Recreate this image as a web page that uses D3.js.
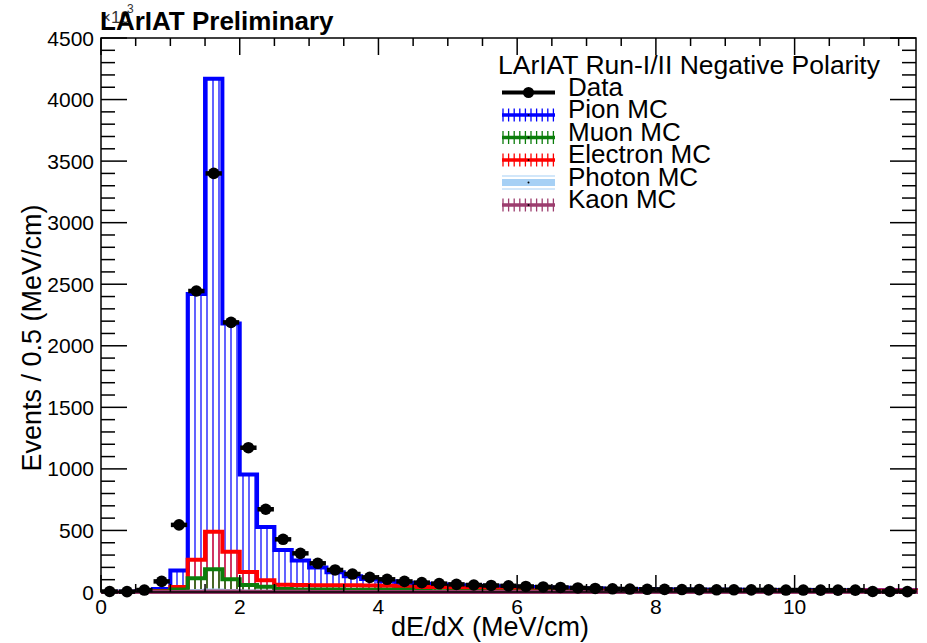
<!DOCTYPE html>
<html>
<head>
<meta charset="utf-8">
<script src="https://cdn.jsdelivr.net/npm/d3@7"></script>
<style>
  body { margin: 0; background: #fff; }
  svg { font-family: "Liberation Sans", Arial, Helvetica, sans-serif; }
</style>
</head>
<body>
<div id="chart"></div>
<script>
    // Bin layout: 47 bins of 0.25 MeV/cm from 0 to 11.75
    const binWidth = 0.25;
    const binLow = d3.range(47).map(i => i * binWidth);

    // Values (events per bin)
    const dataCounts = [4, 3, 16, 86, 545, 2445, 3400, 2190, 1172, 672, 428, 314, 233, 179, 146, 119, 103, 86, 76, 68,
        62, 57, 53, 50, 45, 41, 37, 33, 29, 26, 24, 22, 21, 20, 19, 18, 18, 17, 17, 16, 16, 15, 15, 15, 4, 4, 3];
    const pionMC = [0, 2, 6, 25, 175, 2420, 4170, 2180, 955, 528, 342, 255, 200, 160, 128, 105, 88, 76, 67, 60,
        54, 50, 46, 43, 40, 37, 34, 31, 28, 25, 23, 22, 21, 20, 19, 18, 18, 17, 17, 16, 16, 15, 15, 15, 14, 14, 14];
    const muonMC = [0, 0, 1, 5, 20, 111, 184, 103, 57, 43, 24, 21, 20, 20, 19, 19, 18, 18, 8, 7,
        6, 6, 5, 5, 4, 4, 4, 3, 3, 3, 3, 3, 2, 2, 2, 2, 2, 2, 2, 2, 2, 2, 2, 2, 2, 2, 2];
    const electronMC = [0, 0, 2, 8, 40, 262, 490, 327, 162, 95, 58, 56, 55, 55, 54, 53, 50, 42, 40, 38,
        32, 28, 22, 18, 14, 12, 11, 10, 10, 9, 9, 9, 9, 8, 8, 8, 8, 8, 8, 8, 8, 8, 8, 8, 12, 12, 12];
    const photonMC = [0, 0, 0, 1, 3, 8, 12, 9, 5, 3, 2, 2, 2, 1, 1, 1, 1, 1, 1, 1,
        1, 1, 1, 1, 1, 1, 1, 1, 1, 1, 1, 1, 1, 1, 1, 1, 1, 1, 1, 1, 1, 1, 1, 1, 1, 1, 1];
    const kaonMC = [0, 0, 0, 0, 1, 3, 5, 4, 3, 2, 2, 2, 1, 1, 1, 1, 1, 1, 1, 1,
        1, 1, 1, 1, 1, 1, 1, 1, 1, 1, 1, 1, 1, 1, 1, 1, 1, 1, 1, 1, 1, 1, 1, 1, 1, 1, 1];

    const xTicks = [0, 2, 4, 6, 8, 10];
    const yTicks = [0, 500, 1000, 1500, 2000, 2500, 3000, 3500, 4000, 4500];

    const legendHeader = "LArIAT Run-I/II Negative Polarity";
    const legendNames = ["Data", "Pion MC", "Muon MC", "Electron MC", "Photon MC", "Kaon MC"];

    // Frame
    const frame = {left: 101, right: 916, top: 38, bottom: 592};
    const width = 927, height = 643;

    const svg = d3.select("#chart")
        .append("svg")
        .attr("width", width)
        .attr("height", height);

    const x = d3.scaleLinear()
        .domain([0, 11.75])
        .range([frame.left, frame.right]);

    const y = d3.scaleLinear()
        .domain([0, 4500])
        .range([frame.bottom, frame.top]);

    // Hatch patterns (vertical lines, like ROOT fill style 3006)
    const defs = svg.append("defs");
    function hatch(id, color) {
        const p = defs.append("pattern")
            .attr("id", id)
            .attr("patternUnits", "userSpaceOnUse")
            .attr("width", 6)
            .attr("height", 10);
        p.append("line")
            .attr("x1", 3).attr("x2", 3)
            .attr("y1", 0).attr("y2", 10)
            .attr("stroke", color)
            .attr("stroke-width", 1.4);
    }
    hatch("hPion", "#1f1fff");
    hatch("hMuon", "#0b7d0b");
    hatch("hElectron", "#ff2020");
    hatch("hKaon", "#9c3d6e");

    // Step outline path for a histogram
    function stepPath(values) {
        let d = "M" + x(0) + "," + y(0);
        values.forEach((v, i) => {
            d += "L" + x(binLow[i]) + "," + y(v);
            d += "L" + x(binLow[i] + binWidth) + "," + y(v);
        });
        d += "L" + x(binLow[binLow.length - 1] + binWidth) + "," + y(0) + "Z";
        return d;
    }

    const hists = [
        {values: pionMC, color: "#0000ff", fill: "url(#hPion)"},
        {values: photonMC, color: "#a6d0f5", fill: "#a6d0f5"},
        {values: electronMC, color: "#ff0000", fill: "url(#hElectron)"},
        {values: muonMC, color: "#0b7d0b", fill: "url(#hMuon)"},
        {values: kaonMC, color: "#9c3d6e", fill: "url(#hKaon)"}
    ];

    const plot = svg.append("g");
    hists.forEach(h => {
        plot.append("path")
            .attr("d", stepPath(h.values))
            .attr("fill", h.fill)
            .attr("stroke", "none");
    });
    hists.forEach(h => {
        plot.append("path")
            .attr("d", stepPath(h.values))
            .attr("fill", "none")
            .attr("stroke", h.color)
            .attr("stroke-width", 4)
            .attr("stroke-linejoin", "miter");
    });

    // Data points with horizontal error bars
    const pts = plot.selectAll(".pt")
        .data(dataCounts)
        .enter().append("g");
    pts.append("line")
        .attr("x1", (d, i) => x(binLow[i]) + 0.5)
        .attr("x2", (d, i) => x(binLow[i] + binWidth) - 0.5)
        .attr("y1", d => y(d))
        .attr("y2", d => y(d))
        .attr("stroke", "#000")
        .attr("stroke-width", 4.5);
    pts.append("circle")
        .attr("cx", (d, i) => x(binLow[i] + binWidth / 2))
        .attr("cy", d => y(d))
        .attr("r", 5.8)
        .attr("fill", "#000");

    // Frame box
    svg.append("rect")
        .attr("x", frame.left).attr("y", frame.top)
        .attr("width", frame.right - frame.left)
        .attr("height", frame.bottom - frame.top)
        .attr("fill", "none")
        .attr("stroke", "#000")
        .attr("stroke-width", 1.5);

    // Ticks on all four sides
    const axes = svg.append("g").attr("stroke", "#000").attr("stroke-width", 1.5);
    const xMinor = d3.range(0, 11.75, 0.5);
    xMinor.forEach(v => {
        const len = v % 2 === 0 ? 17 : 8;
        axes.append("line").attr("x1", x(v)).attr("x2", x(v))
            .attr("y1", frame.bottom).attr("y2", frame.bottom - len);
        axes.append("line").attr("x1", x(v)).attr("x2", x(v))
            .attr("y1", frame.top).attr("y2", frame.top + len);
    });
    const yMinor = d3.range(0, 4501, 100);
    yMinor.forEach(v => {
        const len = v % 500 === 0 ? 26 : 14;
        axes.append("line").attr("x1", frame.left).attr("x2", frame.left + len)
            .attr("y1", y(v)).attr("y2", y(v));
        axes.append("line").attr("x1", frame.right).attr("x2", frame.right - len)
            .attr("y1", y(v)).attr("y2", y(v));
    });

    // Tick labels
    svg.append("g").selectAll("text")
        .data(xTicks).enter().append("text")
        .attr("x", d => x(d))
        .attr("y", 614)
        .attr("text-anchor", "middle")
        .attr("font-size", 21)
        .text(d => d);
    svg.append("g").selectAll("text")
        .data(yTicks).enter().append("text")
        .attr("x", 94)
        .attr("y", d => y(d))
        .attr("dy", "0.36em")
        .attr("text-anchor", "end")
        .attr("font-size", 21)
        .text(d => d);

    // Axis titles
    svg.append("text")
        .attr("x", 490).attr("y", 636)
        .attr("text-anchor", "middle")
        .attr("font-size", 27)
        .text("dE/dX (MeV/cm)");
    svg.append("text")
        .attr("transform", "translate(41,338) rotate(-90)")
        .attr("text-anchor", "middle")
        .attr("font-size", 27)
        .text("Events / 0.5 (MeV/cm)");

    // Exponent label (drawn under the title, as in the original) and title
    svg.append("text").attr("x", 101).attr("y", 23).attr("font-size", 17).attr("fill", "#333").text("\u00d710");
    svg.append("text").attr("x", 127).attr("y", 13).attr("font-size", 12).attr("fill", "#333").text("3");
    svg.append("text")
        .attr("x", 100).attr("y", 30)
        .attr("font-size", 26)
        .attr("font-weight", "bold")
        .text("LArIAT Preliminary");

    // Legend
    const lg = svg.append("g");
    lg.append("text")
        .attr("x", 498).attr("y", 74)
        .attr("font-size", 26.5)
        .text(legendHeader);

    const rowY = d => 92.5 + d * 22.5;
    const symX0 = 502, symX1 = 555;
    legendNames.forEach((name, i) => {
        const cy = rowY(i);
        lg.append("text")
            .attr("x", 568).attr("y", cy + 3)
            .attr("font-size", 26)
            .text(name);
        if (i === 0) {
            lg.append("line").attr("x1", symX0).attr("x2", symX1)
                .attr("y1", cy).attr("y2", cy)
                .attr("stroke", "#000").attr("stroke-width", 4);
            lg.append("circle").attr("cx", (symX0 + symX1) / 2).attr("cy", cy)
                .attr("r", 5.5).attr("fill", "#000");
            return;
        }
        const h = [hists[0], hists[3], hists[2], hists[1], hists[4]][i - 1];
        if (i === 4) {
            // photon: light blue band
            lg.append("rect").attr("x", symX0).attr("y", cy - 3.5)
                .attr("width", symX1 - symX0).attr("height", 7).attr("fill", h.color);
            [-6.5, 6.5].forEach(o => lg.append("line").attr("x1", symX0).attr("x2", symX1)
                .attr("y1", cy + o).attr("y2", cy + o)
                .attr("stroke", h.color).attr("stroke-width", 1.2));
        } else {
            lg.append("line").attr("x1", symX0).attr("x2", symX1)
                .attr("y1", cy).attr("y2", cy)
                .attr("stroke", h.color).attr("stroke-width", 3.5);
            d3.range(symX0 + 1, symX1 + 1, 5.6).forEach(tx => {
                lg.append("line").attr("x1", tx).attr("x2", tx)
                    .attr("y1", cy - 6.5).attr("y2", cy + 6.5)
                    .attr("stroke", h.color).attr("stroke-width", 1.3);
            });
        }
        lg.append("circle").attr("cx", (symX0 + symX1) / 2).attr("cy", cy)
            .attr("r", 1).attr("fill", "#000");
    });
</script>
</body>
</html>
